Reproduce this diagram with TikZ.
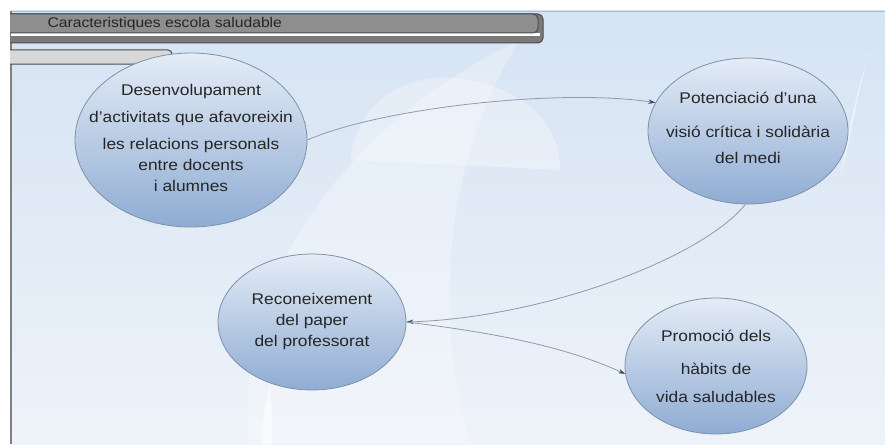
\documentclass[tikz,border=0pt]{standalone}
\usepackage{fontspec}
\setmainfont{Liberation Sans}[FakeStretch=1.12]
\usetikzlibrary{shapes.geometric,arrows.meta}
\definecolor{bgtop}{HTML}{D5E3F3}
\definecolor{bgbot}{HTML}{EEF3F9}
\definecolor{elltop}{HTML}{E4ECF6}
\definecolor{ellbot}{HTML}{8FACD3}
\definecolor{ellline}{HTML}{7F90A8}
\definecolor{connline}{HTML}{8E9BAB}
\definecolor{tipcol}{HTML}{34496A}
\definecolor{txt}{HTML}{262626}
\definecolor{bardark}{HTML}{4D4D4D}
\definecolor{barmid}{HTML}{8E8E8E}
\definecolor{barlow}{HTML}{7A7A7A}
\definecolor{barlight}{HTML}{D8D8D8}
\begin{document}
\begin{tikzpicture}[x=1pt,y=1pt,
  bubble/.style={ellipse, draw=ellline, line width=0.8pt,
    top color=elltop, bottom color=ellbot, inner sep=0pt},
  bubbletext/.style={align=center, text=txt, inner sep=0pt,
    font=\fontsize{15.5}{21}\selectfont},
  link/.style={draw=connline, line width=0.8pt,
    -{Stealth[length=7pt,width=4.5pt,color=tipcol]}},
  bar/.style={draw=bardark, line width=1pt, rounded corners=5pt}]
\useasboundingbox (0,0) rectangle (885,-444);

% canvas
\fill[white] (0,0) rectangle (885,-444);
\shade[top color=bgtop, bottom color=bgbot] (11,-11) rectangle (885,-444);
% soft white swooshes in the backdrop
\fill[white, opacity=0.28] (250,-444) .. controls (230,-300) and (330,-130) .. (520,-40)
  .. controls (450,-150) and (430,-300) .. (470,-444) -- cycle;
\fill[white, opacity=0.3] (350,-160) .. controls (360,-90) and (420,-70) .. (470,-80)
  .. controls (520,-90) and (560,-120) .. (560,-170) -- cycle;
\fill[white, opacity=0.5] (840,-180) .. controls (850,-120) and (860,-80) .. (870,-50)
  .. controls (858,-90) and (850,-140) .. (840,-180) -- cycle;
\fill[white, opacity=0.5] (262,-444) .. controls (262,-420) and (266,-400) .. (270,-385)
  .. controls (272,-405) and (272,-425) .. (272,-444) -- cycle;
\draw[color=ellline!60, line width=1pt] (11,-11.5) -- (885,-11.5);
\draw[color=gray, line width=1.5pt] (11,-11) -- (11,-444);

% header tab
\draw[bar, fill=barlow] (10,-14) -- (543,-14) -- (543,-43) -- (10,-43);
\draw[white, line width=2.2pt] (11,-34.5) -- (540,-34.5);
\draw[bar, fill=barmid] (10,-14) -- (538,-14) -- (538,-33) -- (10,-33);
\node[anchor=west, font=\fontsize{14}{16}\selectfont, text=black!85]
  (title) at (44,-24) {Caracteristiques escola saludable};
\draw[bar, rounded corners=4pt, fill=barlight] (10,-50) -- (172,-50) -- (172,-64) -- (10,-64);

% bubbles
\node[bubble, minimum width=232pt, minimum height=174pt] (dev) at (191,-140) {};
\node[bubbletext] (devtext) at (191,-138)
  {Desenvolupament\\[6pt]d’activitats que afavoreixin\\[6pt]les relacions personals\\entre docents\\i alumnes};
\node[bubble, minimum width=200pt, minimum height=146pt] (pot) at (748,-131) {};
\node[bubbletext] (pottext) at (748,-128)
  {Potenciació d’una\\[13pt]visió crítica i solidària\\[5pt]del medi};
\node[bubble, minimum width=188pt, minimum height=136pt] (rec) at (312,-322) {};
\node[bubbletext] (rectext) at (312,-321)
  {Reconeixement\\del paper\\del professorat};
\node[bubble, minimum width=182pt, minimum height=136pt] (pro) at (716,-366) {};
\node[bubbletext] (protext) at (716,-366)
  {Promoció dels\\[12pt]hàbits de\\[7pt]vida saludables};

% connectors
\draw[link] (dev.east) .. controls (380,-108) and (560,-88) .. (pot.163);
\draw[link] (pot.268) .. controls (700,-260) and (540,-318) .. (rec.east);
\draw[link] (rec.east) .. controls (480,-331) and (560,-344) .. (pro.185);
\end{tikzpicture}
\end{document}
